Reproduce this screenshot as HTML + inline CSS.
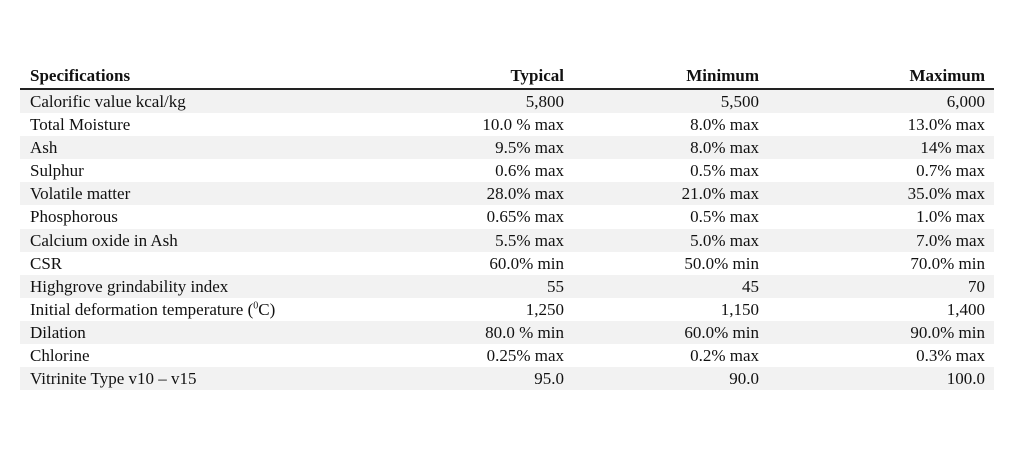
<!DOCTYPE html>
<html><head><meta charset="utf-8"><style>
body{margin:0;width:1024px;height:474px;background:#fff;position:relative;overflow:hidden;font-family:"Liberation Serif",serif;color:#111}
.t{position:absolute;left:20px;top:64px;width:974px}
.r{position:relative;height:23.1px;font-size:17px;line-height:23.1px}
.r.s{background:#f2f2f2}
.h{height:24px;line-height:24px;font-weight:bold;border-bottom:2px solid #222;font-size:17px;position:relative}
.c0{position:absolute;left:10px}
.c1{position:absolute;right:430px}
.c2{position:absolute;right:235px}
.c3{position:absolute;right:9px}
</style></head><body>
<div class="t">
<div class="h"><span class="c0">Specifications</span><span class="c1">Typical</span><span class="c2">Minimum</span><span class="c3">Maximum</span></div>
<div class="r s"><span class="c0">Calorific value kcal/kg</span><span class="c1">5,800</span><span class="c2">5,500</span><span class="c3">6,000</span></div>
<div class="r"><span class="c0">Total Moisture</span><span class="c1">10.0 % max</span><span class="c2">8.0% max</span><span class="c3">13.0% max</span></div>
<div class="r s"><span class="c0">Ash</span><span class="c1">9.5% max</span><span class="c2">8.0% max</span><span class="c3">14% max</span></div>
<div class="r"><span class="c0">Sulphur</span><span class="c1">0.6% max</span><span class="c2">0.5% max</span><span class="c3">0.7% max</span></div>
<div class="r s"><span class="c0">Volatile matter</span><span class="c1">28.0% max</span><span class="c2">21.0% max</span><span class="c3">35.0% max</span></div>
<div class="r"><span class="c0">Phosphorous</span><span class="c1">0.65% max</span><span class="c2">0.5% max</span><span class="c3">1.0% max</span></div>
<div class="r s"><span class="c0">Calcium oxide in Ash</span><span class="c1">5.5% max</span><span class="c2">5.0% max</span><span class="c3">7.0% max</span></div>
<div class="r"><span class="c0">CSR</span><span class="c1">60.0% min</span><span class="c2">50.0% min</span><span class="c3">70.0% min</span></div>
<div class="r s"><span class="c0">Highgrove grindability index</span><span class="c1">55</span><span class="c2">45</span><span class="c3">70</span></div>
<div class="r"><span class="c0">Initial deformation temperature (<sup style="font-size:10px;line-height:0">0</sup>C)</span><span class="c1">1,250</span><span class="c2">1,150</span><span class="c3">1,400</span></div>
<div class="r s"><span class="c0">Dilation</span><span class="c1">80.0 % min</span><span class="c2">60.0% min</span><span class="c3">90.0% min</span></div>
<div class="r"><span class="c0">Chlorine</span><span class="c1">0.25% max</span><span class="c2">0.2% max</span><span class="c3">0.3% max</span></div>
<div class="r s"><span class="c0">Vitrinite Type v10 – v15</span><span class="c1">95.0</span><span class="c2">90.0</span><span class="c3">100.0</span></div>
</div>
</body></html>
